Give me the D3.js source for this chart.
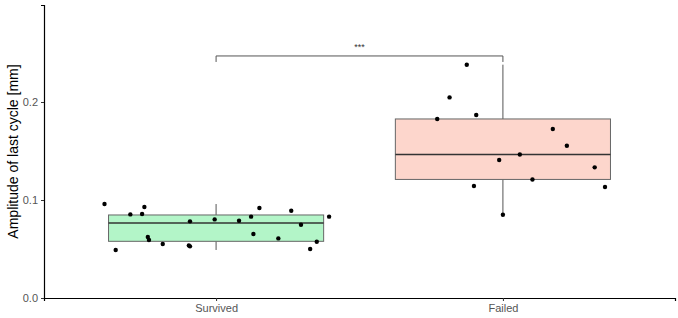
<!DOCTYPE html>
<html>
<head>
<meta charset="utf-8">
<script src="https://cdn.jsdelivr.net/npm/d3@7"></script>
<style>
  body { margin: 0; background: #fff; }
  text { font-family: "Liberation Sans", Arial, sans-serif; }
</style>
</head>
<body>
<div id="chart-area"></div>
<script>
// categories and raw observations (jitter = horizontal offset in category units)
let categories = ["Survived", "Failed"];
let survivedValues = [0.0959, 0.0490, 0.0853, 0.0857, 0.0929, 0.0622, 0.0592, 0.0551, 0.0537, 0.0527, 0.0782,
                      0.0802, 0.0789, 0.0830, 0.0918, 0.0653, 0.0608, 0.0891, 0.0748, 0.0830, 0.0574, 0.0500];
let survivedJitter = [-0.389, -0.350, -0.299, -0.258, -0.250, -0.238, -0.234, -0.186, -0.095, -0.091, -0.091,
                      -0.005, 0.080, 0.122, 0.151, 0.130, 0.217, 0.262, 0.296, 0.394, 0.351, 0.328];
let failedValues = [0.2381, 0.2047, 0.1867, 0.1827, 0.1724, 0.1554, 0.1465, 0.1408, 0.1333, 0.1210, 0.1143, 0.1133, 0.0850];
let failedJitter = [-0.126, -0.186, -0.093, -0.229, 0.174, 0.223, 0.059, -0.013, 0.320, 0.103, -0.101, 0.356, 0.000];
let yTicks = [0.0, 0.1, 0.2];
let fills = ["#b3f5c8", "#fdd6cc"];
let sigLabel = "***";
let sigLevel = 0.247;

let W = 678, H = 318;
let margin = {left:44, right:3, top:5, bottom:20};
let width = W - margin.left - margin.right;
let height = H - margin.top - margin.bottom;

let svg = d3.select("#chart-area")
            .append("svg")
            .attr("width", W)
            .attr("height", H);

let g = svg.append("g")
        .attr("transform", "translate(" + margin.left + "," + margin.top + ")");

// discrete axis as a linear index scale with ggplot-like 0.6 expansion
let x = d3.scaleLinear()
        .domain([-0.6, categories.length - 1 + 0.6])
        .range([0, width]);
let y = d3.scaleLinear()
        .domain([0, 0.299])
        .range([height, 0]);

let groups = [
  {name: categories[0], i: 0, values: survivedValues, jitter: survivedJitter, fill: fills[0]},
  {name: categories[1], i: 1, values: failedValues, jitter: failedJitter, fill: fills[1]}
];

groups.forEach(function(d){
  let s = d.values.slice().sort(d3.ascending);
  d.q1 = d3.quantile(s, 0.25);
  d.med = d3.quantile(s, 0.5);
  d.q3 = d3.quantile(s, 0.75);
  let iqr = d.q3 - d.q1;
  d.lo = d3.min(s.filter(v => v >= d.q1 - 1.5 * iqr));
  d.hi = d3.max(s.filter(v => v <= d.q3 + 1.5 * iqr));
});

let boxW = 0.75;

// boxes
let box = g.selectAll(".box")
        .data(groups)
        .enter()
        .append("g")
        .attr("class", "box");

box.append("line")
    .attr("x1", d => x(d.i)).attr("x2", d => x(d.i))
    .attr("y1", d => y(d.hi)).attr("y2", d => y(d.q3))
    .attr("stroke", "#555").attr("stroke-width", 1);
box.append("line")
    .attr("x1", d => x(d.i)).attr("x2", d => x(d.i))
    .attr("y1", d => y(d.q1)).attr("y2", d => y(d.lo))
    .attr("stroke", "#555").attr("stroke-width", 1);
box.append("rect")
    .attr("x", d => x(d.i - boxW / 2))
    .attr("width", d => x(d.i + boxW / 2) - x(d.i - boxW / 2))
    .attr("y", d => y(d.q3))
    .attr("height", d => y(d.q1) - y(d.q3))
    .attr("fill", d => d.fill)
    .attr("stroke", "#666")
    .attr("stroke-width", 1);
box.append("line")
    .attr("x1", d => x(d.i - boxW / 2)).attr("x2", d => x(d.i + boxW / 2))
    .attr("y1", d => y(d.med)).attr("y2", d => y(d.med))
    .attr("stroke", "#333").attr("stroke-width", 1.6);

// jittered points
let pts = [];
groups.forEach(function(d){
  d.values.forEach(function(v, k){ pts.push({i: d.i, v: v, j: d.jitter[k]}); });
});
g.selectAll(".pt")
    .data(pts)
    .enter()
    .append("circle")
    .attr("class", "pt")
    .attr("cx", d => x(d.i + d.j))
    .attr("cy", d => y(d.v))
    .attr("r", 2.2)
    .attr("fill", "#000");

// significance bracket
let tick = 6;
g.append("path")
    .attr("d", "M" + x(0) + "," + (y(sigLevel) + tick) + "V" + y(sigLevel) +
               "H" + x(1) + "V" + (y(sigLevel) + tick))
    .attr("fill", "none")
    .attr("stroke", "#555")
    .attr("stroke-width", 1);
g.append("text")
    .attr("x", (x(0) + x(1)) / 2)
    .attr("y", y(sigLevel) - 6)
    .attr("text-anchor", "middle")
    .attr("font-size", "9px")
    .attr("fill", "#333")
    .text(sigLabel);

// axes
let xAxis = d3.axisBottom(x)
        .tickValues(d3.range(categories.length))
        .tickFormat(i => categories[i])
        .tickSizeOuter(0)
        .tickSize(3)
        .tickPadding(3);
let xg = g.append("g")
    .attr("transform", "translate(0," + height + ")")
    .call(xAxis);

let yAxis = d3.axisLeft(y)
        .tickValues(yTicks)
        .tickFormat(d3.format(".1f"))
        .tickSizeOuter(0)
        .tickSize(3)
        .tickPadding(3);
let yg = g.append("g")
    .call(yAxis);

[xg, yg].forEach(function(a){
  a.select(".domain").attr("stroke", "#000").attr("stroke-width", 1.2);
  a.selectAll(".tick line").attr("stroke", "#333");
  a.selectAll(".tick text").attr("fill", "#555").attr("font-size", "11px")
      .style("font-family", "'Liberation Sans', Arial, sans-serif");
});

// y label
svg.append("text")
  .attr("transform", "translate(14," + (margin.top + height / 2) + ") rotate(-90)")
  .attr("text-anchor", "middle")
  .attr("dominant-baseline", "middle")
  .attr("font-size", "14px")
  .attr("fill", "#000")
  .text("Amplitude of last cycle [mm]");
</script>
</body>
</html>
